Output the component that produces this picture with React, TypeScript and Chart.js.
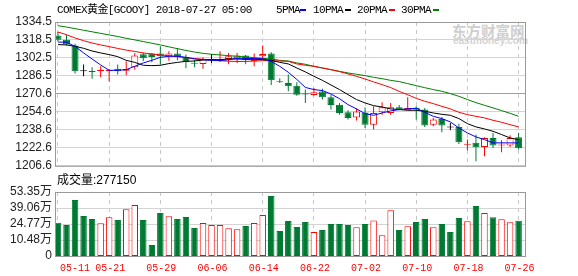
import React, { useEffect, useRef } from 'react';
import { Chart, registerables } from 'chart.js';

Chart.register(...registerables);

const dates = [
  '05-11','05-14','05-15','05-16','05-17','05-18','05-21','05-22','05-23','05-24',
  '05-25','05-28','05-29','05-30','05-31','06-01','06-04','06-05','06-06','06-07',
  '06-08','06-11','06-12','06-13','06-14','06-15','06-18','06-19','06-20','06-21',
  '06-22','06-25','06-26','06-27','06-28','06-29','07-02','07-03','07-04','07-05',
  '07-06','07-09','07-10','07-11','07-12','07-13','07-16','07-17','07-18','07-19',
  '07-20','07-23','07-24','07-25','07-26'
];

const openP = [
  1322.6,1318.8,1313.5,1291.2,1290.8,1290.6,1290.6,1293.0,1291.2,1294.2,
  1305.8,1306.4,1306.4,1304.0,1306.4,1303.4,1298.1,1297.2,1300.7,1300.4,
  1301.6,1302.2,1304.6,1299.8,1304.0,1306.4,1281.7,1280.3,1277.9,1270.6,
  1269.6,1272.6,1267.5,1261.0,1254.2,1249.5,1254.0,1243.2,1254.2,1253.6,
  1258.6,1256.0,1258.1,1256.6,1243.0,1248.3,1241.2,1241.2,1225.4,1227.0,
  1223.4,1231.4,1224.8,1224.6,1232.0
];
const highP = [
  1325.6,1323.2,1315.2,1296.6,1294.2,1295.1,1292.7,1296.6,1299.5,1307.0,
  1307.2,1307.0,1312.9,1308.4,1311.4,1305.5,1301.0,1303.1,1306.1,1308.4,
  1307.0,1307.0,1305.2,1306.4,1313.5,1307.5,1284.4,1287.7,1280.9,1274.4,
  1275.8,1275.2,1269.9,1262.5,1256.0,1257.8,1258.4,1259.5,1263.1,1262.5,
  1260.7,1267.5,1259.5,1258.1,1249.2,1250.1,1244.7,1244.1,1229.9,1234.4,
  1232.0,1235.8,1229.3,1233.8,1235.8
];
const lowP = [
  1317.6,1313.5,1288.6,1286.2,1284.1,1285.6,1281.5,1287.7,1287.1,1292.1,
  1299.8,1298.6,1296.6,1300.1,1300.4,1293.3,1294.2,1293.0,1298.1,1299.0,
  1296.9,1298.1,1296.9,1295.1,1301.0,1278.5,1280.3,1272.9,1269.0,1262.5,
  1269.0,1265.5,1256.6,1252.1,1247.7,1246.8,1240.3,1238.8,1252.1,1252.1,
  1256.0,1256.0,1247.7,1241.2,1241.8,1236.4,1238.2,1226.0,1220.4,1210.6,
  1215.1,1222.5,1218.6,1223.4,1221.0
];
const closeP = [
  1318.8,1314.4,1290.6,1291.2,1290.3,1292.1,1292.0,1290.6,1292.8,1304.6,
  1302.2,1303.4,1304.0,1306.4,1303.4,1299.0,1297.5,1301.6,1300.7,1300.9,
  1304.0,1304.6,1301.0,1302.2,1306.1,1282.7,1281.2,1277.3,1269.9,1270.2,
  1272.0,1267.5,1260.7,1253.6,1249.2,1254.8,1243.2,1253.6,1258.6,1258.6,
  1256.6,1258.1,1256.6,1242.4,1247.7,1242.4,1241.2,1227.5,1226.0,1223.1,
  1231.4,1224.6,1225.4,1231.4,1222.2
];

const ma5 = [
  1316.7,1316.4,1312.9,1307.0,1301.6,1296.3,1291.5,1291.5,1292.1,1295.1,
  1298.1,1300.4,1303.1,1304.0,1304.0,1303.1,1301.6,1301.0,1300.4,1300.1,
  1301.0,1302.2,1302.2,1301.9,1301.9,1299.5,1295.1,1289.8,1283.4,1276.3,
  1274.4,1273.5,1270.5,1266.3,1261.0,1257.2,1253.0,1251.5,1253.6,1255.4,
  1256.6,1257.2,1257.8,1254.2,1250.6,1248.6,1245.6,1240.3,1235.8,1232.3,
  1229.9,1227.0,1227.0,1227.0,1227.0
];
const ma10 = [
  1314.4,1314.1,1312.9,1311.1,1308.7,1307.0,1305.5,1303.7,1300.4,1298.6,
  1296.0,1295.7,1296.0,1297.5,1298.6,1299.5,1299.8,1300.7,1301.0,1301.0,
  1301.6,1301.6,1301.3,1301.3,1301.0,1300.4,1298.6,1297.2,1293.6,1290.1,
  1286.2,1282.6,1278.5,1274.4,1269.9,1265.5,1262.5,1260.1,1258.9,1257.2,
  1256.6,1256.0,1256.0,1255.1,1253.6,1252.4,1251.5,1248.6,1244.1,1241.2,
  1239.4,1237.3,1234.4,1231.4,1229.9
];
const ma20 = [
  1325.6,1323.2,1320.3,1317.9,1315.8,1314.1,1312.6,1311.0,1309.5,1308.3,
  1307.0,1306.0,1305.2,1304.5,1303.7,1302.8,1302.0,1301.3,1300.7,1300.1,
  1299.6,1299.4,1299.4,1299.8,1300.1,1300.1,1299.8,1299.5,1297.2,1296.0,
  1295.1,1293.6,1292.1,1290.4,1288.3,1286.2,1283.8,1281.2,1278.8,1276.2,
  1272.8,1269.8,1266.6,1264.0,1261.9,1259.5,1257.2,1254.2,1252.1,1250.6,
  1249.2,1247.1,1245.3,1243.2,1241.2
];
const ma30 = [
  1331.2,1330.0,1328.6,1327.2,1325.8,1324.4,1323.0,1321.6,1320.0,1318.6,
  1317.1,1315.6,1314.1,1312.4,1310.8,1309.2,1307.8,1306.6,1305.8,1305.2,
  1304.6,1304.0,1303.4,1302.8,1302.2,1301.6,1300.4,1299.8,1298.1,1296.9,
  1295.1,1293.6,1292.1,1290.6,1289.2,1288.0,1286.8,1285.3,1284.1,1282.6,
  1281.5,1279.7,1277.9,1276.1,1274.4,1272.9,1270.8,1268.4,1265.5,1262.8,
  1260.4,1258.1,1255.7,1253.3,1250.6
];

// volume in 万 (10k)
const volume = [
  25.9,23.9,46.2,31.9,29.2,25.4,30.8,28.3,37.9,41.7,
  28.3,6.0,34.6,31.6,29.2,31.0,21.2,25.7,23.9,23.9,
  20.9,20.0,23.0,25.7,32.8,49.8,18.5,27.4,22.1,26.6,
  17.6,19.4,24.8,24.8,23.9,21.8,24.8,28.0,14.7,37.0,
  19.4,22.7,26.6,29.2,21.8,24.8,17.6,30.1,27.2,40.8,
  34.6,30.8,29.0,26.3,27.715
];
const volumeUp = [
  0,0,0,0,0,1,1,0,1,1, 0,0,0,1,0,0,0,1,1,1,
  1,1,0,1,1,0,0,0,0,0, 1,0,0,0,0,1,0,1,1,1,
  0,1,0,0,1,0,0,0,1,0, 1,0,1,1,0
];

const priceTickLabels = ['1334.5','1318.5','1302.5','1286.5','1270.6','1254.6','1238.6','1222.6','1206.6'];
const volumeTickValues = [53.35, 39.06, 24.77, 10.48, -3.81];
const volumeTickLabels = ['53.35万','39.06万','24.77万','10.48万','0'];
const xTickIndex = [0, 6, 12, 18, 24, 30, 36, 42, 48, 54];

const maNames = ['5PMA', '10PMA', '20PMA', '30PMA'];
const maColors = ['#0000ff', '#000000', '#ff0000', '#008000'];

const RED = '#ff0000';
const GREEN = '#007a33';
const FRAME = '#999999';
const GRID = '#d4d4d4';

const framePlugin = {
  id: 'frame',
  afterDraw(chart: any) {
    const { ctx, chartArea: a } = chart;
    ctx.save();
    ctx.strokeStyle = FRAME;
    ctx.lineWidth = 1;
    ctx.strokeRect(a.left + 0.5, a.top + 0.5, a.right - a.left, a.bottom - a.top);
    ctx.restore();
  },
};

const xLabelPlugin = {
  id: 'xLabels',
  afterDraw(chart: any) {
    const { ctx, chartArea, scales } = chart;
    const xs = scales.x;
    ctx.save();
    ctx.fillStyle = RED;
    ctx.font = '10px "Liberation Mono", "DejaVu Sans Mono", monospace';
    ctx.textBaseline = 'middle';
    xTickIndex.forEach((i, k) => {
      const px = xs.getPixelForValue(i);
      ctx.textAlign = k === 0 ? 'left' : 'center';
      ctx.fillText(dates[i], k === 0 ? px + 2 : px + 1, chartArea.bottom + 12.5);
    });
    ctx.restore();
  },
};

function xScale(height: number) {
  return {
    type: 'linear' as const,
    min: -0.35,
    max: 54.75,
    offset: false,
    afterBuildTicks: (s: any) => {
      s.ticks = xTickIndex.map((v) => ({ value: v }));
    },
    ticks: { display: false },
    grid: { color: '#c8c8c8', drawTicks: false, offset: false },
    border: { display: false, dash: [4, 4] },
    afterFit: (s: any) => {
      s.height = height;
    },
  };
}

const tickFont = { family: '"Liberation Sans", Arial, "Noto Sans CJK SC", sans-serif', size: 12 };

export default function App() {
  const priceRef = useRef<HTMLCanvasElement>(null);
  const volRef = useRef<HTMLCanvasElement>(null);

  useEffect(() => {
    const idx = closeP.map((_, i) => i);
    const candleColor = idx.map((i) =>
      closeP[i] > openP[i] ? RED : closeP[i] < openP[i] ? GREEN : '#000000'
    );
    const bodyFill = idx.map((i) => (closeP[i] > openP[i] ? '#ffffff' : candleColor[i]));
    const bodies = idx.map((i) => {
      let lo = Math.min(openP[i], closeP[i]);
      let hi = Math.max(openP[i], closeP[i]);
      if (hi - lo < 0.9) {
        const m = (lo + hi) / 2;
        lo = m - 0.45;
        hi = m + 0.45;
      }
      return { x: i, y: [lo, hi] };
    });
    const wicks = idx.map((i) => ({ x: i, y: [lowP[i], highP[i]] }));
    const maSeries = [ma5, ma10, ma20, ma30];

    const priceChart = new Chart(priceRef.current as HTMLCanvasElement, {
      type: 'bar',
      data: {
        datasets: [
          ...maSeries.map((s, k) => ({
            type: 'line' as const,
            label: maNames[k],
            data: s.map((y, i) => ({ x: i, y })),
            borderColor: maColors[k],
            borderWidth: 1,
            pointRadius: 0,
            tension: 0,
            fill: false,
            order: 0,
          })),
          {
            type: 'bar' as const,
            label: 'body',
            data: bodies as any,
            backgroundColor: bodyFill,
            borderColor: candleColor,
            borderWidth: 1,
            borderSkipped: false,
            barThickness: 7,
            grouped: false,
            inflateAmount: 0,
            order: 1,
          },
          {
            type: 'bar' as const,
            label: 'wick',
            data: wicks as any,
            backgroundColor: candleColor,
            borderWidth: 0,
            barThickness: 1,
            grouped: false,
            inflateAmount: 0,
            order: 2,
          },
        ] as any,
      },
      options: {
        animation: false,
        responsive: false,
        maintainAspectRatio: false,
        layout: { padding: { top: 22, right: 53, bottom: 10, left: 0 } },
        plugins: { legend: { display: false }, tooltip: { enabled: false } },
        scales: {
          x: xScale(0) as any,
          y: {
            type: 'linear',
            min: 1206.6,
            max: 1334.5,
            afterBuildTicks: (s: any) => {
              s.ticks = priceTickLabels.map((l) => ({ value: parseFloat(l) }));
            },
            afterFit: (s: any) => {
              s.width = 55;
            },
            ticks: {
              autoSkip: false,
              padding: 3,
              color: '#222222',
              font: tickFont,
              callback: (v: any) =>
                priceTickLabels.find((l) => Math.abs(parseFloat(l) - Number(v)) < 1e-6) ?? '',
            },
            grid: {
              drawTicks: false,
              color: (ctx: any) =>
                ctx.tick && Math.abs(ctx.tick.value - 1270.6) < 0.01 ? '#a0a0a0' : GRID,
            },
            border: { display: false },
          },
        },
      },
      plugins: [framePlugin],
    });

    const volChart = new Chart(volRef.current as HTMLCanvasElement, {
      type: 'bar',
      data: {
        datasets: [
          {
            label: '成交量',
            data: volume.map((v, i) => ({ x: i, y: [volumeTickValues[4], v] })) as any,
            backgroundColor: volumeUp.map((u) => (u ? '#ffffff' : GREEN)),
            borderColor: volumeUp.map((u) => (u ? RED : GREEN)),
            borderWidth: 1,
            borderSkipped: false,
            barThickness: 6.5,
            grouped: false,
            inflateAmount: 0,
          },
        ],
      },
      options: {
        animation: false,
        responsive: false,
        maintainAspectRatio: false,
        layout: { padding: { top: 16, right: 53, bottom: 0, left: 0 } },
        plugins: { legend: { display: false }, tooltip: { enabled: false } },
        scales: {
          x: xScale(20) as any,
          y: {
            type: 'linear',
            min: volumeTickValues[4],
            max: volumeTickValues[0],
            afterBuildTicks: (s: any) => {
              s.ticks = volumeTickValues.map((v) => ({ value: v }));
            },
            afterFit: (s: any) => {
              s.width = 55;
            },
            ticks: {
              autoSkip: false,
              padding: 3,
              color: '#222222',
              font: tickFont,
              callback: (_v: any, i: number) => volumeTickLabels[i],
            },
            grid: { drawTicks: false, color: GRID },
            border: { display: false },
          },
        },
      },
      plugins: [framePlugin, xLabelPlugin],
    });

    return () => {
      priceChart.destroy();
      volChart.destroy();
    };
  }, []);

  const mono: React.CSSProperties = {
    fontFamily: '"Liberation Mono", "DejaVu Sans Mono", "Noto Sans CJK SC", monospace',
    fontSize: 11,
    letterSpacing: '-0.6px',
    lineHeight: '14px',
    color: '#000',
    whiteSpace: 'pre',
  };

  return (
    <div
      style={{
        position: 'absolute',
        left: 0,
        top: 0,
        width: 578,
        height: 276,
        background: '#ffffff',
        overflow: 'hidden',
      }}
    >
      <div
        style={{
          position: 'absolute',
          left: 452,
          top: 23,
          fontFamily: '"Noto Sans CJK SC", sans-serif',
          fontWeight: 700,
          fontSize: 14.5,
          lineHeight: '15px',
          color: '#cfcfcf',
          whiteSpace: 'pre',
        }}
      >
        东方财富网
      </div>
      <div
        style={{
          position: 'absolute',
          left: 453,
          top: 36,
          fontFamily: '"Liberation Sans", Arial, sans-serif',
          fontWeight: 700,
          fontSize: 10,
          lineHeight: '10px',
          color: '#d2d2d2',
          whiteSpace: 'pre',
        }}
      >
        eastmoney.com
      </div>
      <canvas
        ref={priceRef}
        width={578}
        height={176}
        style={{ position: 'absolute', left: 0, top: 0, width: 578, height: 176 }}
      />
      <canvas
        ref={volRef}
        width={578}
        height={100}
        style={{ position: 'absolute', left: 0, top: 176, width: 578, height: 100 }}
      />
      <div style={{ ...mono, position: 'absolute', left: 57, top: 3 }}>
        COMEX黄金[GCOOY] 2018-07-27 05:00
      </div>
      <div
        style={{
          position: 'absolute',
          left: 276,
          top: 3,
          display: 'flex',
          alignItems: 'center',
          height: 14,
        }}
      >
        {maNames.map((n, k) => (
          <React.Fragment key={n}>
            <span style={mono}>{n}</span>
            <span
              style={{
                display: 'inline-block',
                width: 6,
                height: 2,
                background: maColors[k],
                marginLeft: k === 0 ? 0 : 2,
                marginRight: k === 0 ? 7 : 6,
              }}
            />
          </React.Fragment>
        ))}
      </div>
      <div
        style={{
          position: 'absolute',
          left: 57,
          top: 173,
          fontFamily: '"Liberation Sans", Arial, "Noto Sans CJK SC", sans-serif',
          fontSize: 12,
          lineHeight: '14px',
          color: '#000',
          whiteSpace: 'pre',
        }}
      >
        成交量:277150
      </div>
    </div>
  );
}
